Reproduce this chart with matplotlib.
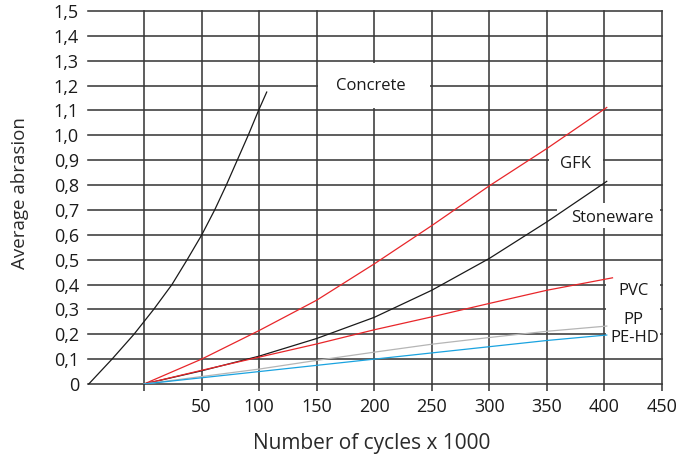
import matplotlib
matplotlib.use("Agg")
import matplotlib.pyplot as plt
from matplotlib.patches import Rectangle

plt.rcParams['font.family'] = ['Open Sans', 'DejaVu Sans']

# values (x in 1000 cycles, y = average abrasion)
concrete_x = [-48, -27.8, -8.7, 8.4, 24.3, 37.5, 50.2, 61.4, 71.5, 81, 90.5, 99.5, 106.6]
concrete_y = [0, 0.1, 0.2, 0.3, 0.4, 0.5, 0.6, 0.7, 0.8, 0.9, 1.0, 1.1, 1.174]

gfk_x = [0, 50, 100, 150, 200, 250, 300, 350, 402]
gfk_y = [0, 0.10, 0.215, 0.337, 0.483, 0.637, 0.797, 0.947, 1.112]

stone_x = [0, 50, 100, 150, 200, 250, 300, 350, 402]
stone_y = [0, 0.053, 0.112, 0.183, 0.268, 0.377, 0.505, 0.652, 0.815]

pvc_x = [0, 50, 100, 150, 200, 250, 300, 350, 407]
pvc_y = [0, 0.055, 0.108, 0.161, 0.218, 0.27, 0.324, 0.377, 0.427]

pp_x = [0, 50, 100, 150, 200, 250, 300, 350, 402]
pp_y = [0, 0.03, 0.06, 0.095, 0.128, 0.16, 0.187, 0.212, 0.233]

pehd_x = [0, 50, 100, 150, 200, 250, 300, 350, 402]
pehd_y = [0, 0.025, 0.05, 0.075, 0.1, 0.125, 0.15, 0.175, 0.197]

x_ticks = [0, 50, 100, 150, 200, 250, 300, 350, 400, 450]
x_labels = ['', '50', '100', '150', '200', '250', '300', '350', '400', '450']
y_ticks = [i / 10 for i in range(16)]
y_labels = ['0'] + [f'{v:.1f}'.replace('.', ',') for v in y_ticks[1:]]

grid_c = '#3a3a3a'
grid_w = 1.15

fig = plt.figure(figsize=(6.91, 4.57), dpi=100)
ax = fig.add_axes([88 / 691, 1 - 384 / 457, (662 - 88) / 691, (384 - 11) / 457])
ax.set_xlim(-48.65, 450)
ax.set_ylim(0, 1.5)
for s in ax.spines.values():
    s.set_visible(False)

for y in y_ticks:
    ax.axhline(y, color=grid_c, lw=grid_w, zorder=1, clip_on=False)
for x in x_ticks:
    ax.axvline(x, color=grid_c, lw=grid_w, zorder=1, clip_on=False)

ax.set_xticks(x_ticks, x_labels)
ax.set_yticks(y_ticks, y_labels)
ax.tick_params(axis='x', direction='out', length=5, width=grid_w, color=grid_c,
               pad=5, labelsize=13, labelcolor='#1a1a1a')
ax.tick_params(axis='y', length=0, pad=6.5, labelsize=13, labelcolor='#1a1a1a')

# white label boxes that cut the grid
boxes = [((151.5, 1.108), 97, 0.184),
         ((351.5, 0.835), 47.3, 0.113),
         ((359, 0.627), 89.5, 0.10),
         ((401.7, 0.128), 46.8, 0.33)]
for (bx, by), w, h in boxes:
    ax.add_patch(Rectangle((bx, by), w, h, fc='white', ec='none', zorder=2, clip_on=False))

lw = 0.9
ax.plot(concrete_x, concrete_y, color='#1a1a1a', lw=lw, zorder=3, clip_on=False)
ax.plot(gfk_x, gfk_y, color='#e8262a', lw=lw, zorder=3)
ax.plot(stone_x, stone_y, color='#1a1a1a', lw=lw, zorder=3)
ax.plot(pvc_x, pvc_y, color='#e8262a', lw=lw, zorder=3)
ax.plot(pp_x, pp_y, color='#b5b5b5', lw=lw, zorder=3)
ax.plot(pehd_x, pehd_y, color='#1aa3e0', lw=lw, zorder=3)

lab = dict(fontsize=12, color='#1a1a1a', ha='center', va='center', zorder=4)
ax.text(197, 1.20, 'Concrete', **lab)
ax.text(375, 0.884, 'GFK', **lab)
ax.text(407, 0.669, 'Stoneware', **lab)
ax.text(425, 0.375, 'PVC', **lab)
ax.text(425, 0.257, 'PP', **lab)
ax.text(426, 0.184, 'PE-HD', **lab)

fig.text(20 / 691, 1 - 193 / 457, 'Average abrasion', rotation=90,
         ha='center', va='center', fontsize=13.5, color='#2a2a2a')
fig.text(372 / 691, 1 - 443 / 457, 'Number of cycles x 1000',
         ha='center', va='center', fontsize=15, color='#2a2a2a')

fig.savefig('out.png', dpi=100, facecolor='white')
